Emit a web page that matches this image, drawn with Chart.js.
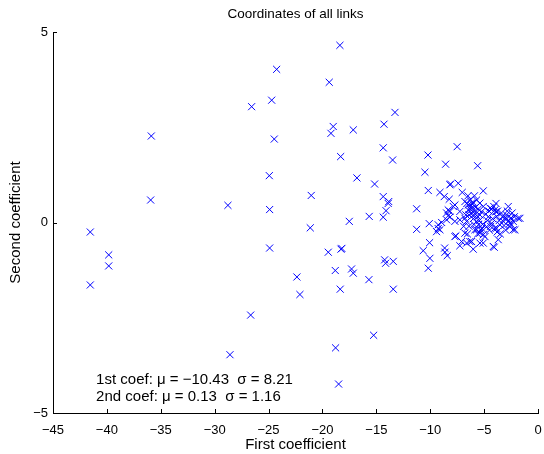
<!DOCTYPE html>
<html>
<head>
<meta charset="utf-8">
<title>Coordinates of all links</title>
<script src="https://cdn.jsdelivr.net/npm/chart.js@4.4.1/dist/chart.umd.min.js"></script>
<style>
  html, body { margin: 0; padding: 0; background: #fff; }
  #wrap { width: 544px; height: 454px; }
</style>
</head>
<body>
<div id="wrap"><canvas id="linkChart" width="544" height="454"></canvas></div>
<script>
// [first coefficient, second coefficient] for every link
const links = [
  // far left / sparse region
  [-41.54, -0.25], [-41.54, -1.64], [-39.83, -0.85], [-39.83, -1.14],
  [-35.94, 0.59], [-35.88, 2.27], [-28.77, 0.45], [-28.58, -3.47],
  [-26.66, -2.43], [-26.57, 3.04], [-24.93, 1.23], [-24.90, 0.34],
  [-24.90, -0.67], [-24.71, 3.21], [-24.47, 2.19], [-24.25, 4.02],
  [-22.37, -1.43], [-22.09, -1.89], [-21.13, -0.14], [-21.04, 0.71],
  [-19.46, -0.78], [-19.37, 3.68], [-19.21, 2.34], [-19.00, 2.52],
  [-18.81, -1.26], [-18.78, -3.29], [-18.50, -4.24], [-18.38, 4.65],
  [-18.35, -1.75], [-18.31, 1.73], [-18.28, -0.70], [-18.20, -0.68],
  [-17.51, 0.03], [-17.30, -1.22], [-17.14, -1.33], [-17.14, 2.43],
  [-16.80, 1.17], [-15.69, -1.50], [-15.66, 0.16], [-15.25, -2.96],
  [-15.16, 1.01], [-14.36, 1.96], [-14.36, 0.68], [-14.36, 0.14],
  [-14.29, 2.58], [-14.23, -0.98], [-14.14, -1.07], [-14.10, 0.31],
  [-13.90, 0.50], [-13.85, 0.55], [-13.49, 1.64], [-13.43, -1.02],
  [-13.43, -1.75], [-13.27, 2.89],
  // middle band
  [-11.26, 0.36], [-11.26, -0.18], [-10.65, -0.74], [-10.49, 1.32],
  [-10.21, 1.77], [-10.18, 0.84], [-10.18, -1.20], [-10.09, -0.03],
  [-10.06, -0.53], [-10.03, -0.94], [-9.41, -0.24], [-9.26, -0.06],
  [-9.26, -0.16], [-9.10, -0.19], [-9.10, 0.79], [-8.94, 0.00],
  [-8.70, 0.68], [-8.66, -0.67], [-8.63, -0.78], [-8.57, 1.53],
  [-8.48, 0.25], [-8.48, 0.07], [-8.42, -0.87], [-8.33, 0.33],
  [-8.33, 0.18], [-8.24, 0.61], [-8.17, 0.99], [-8.17, 0.29],
  [-8.17, 0.14], [-8.11, 1.01], [-7.86, 0.42], [-7.71, 0.46],
  [-7.71, 0.03], [-7.71, -0.37], [-7.62, -0.35], [-7.50, 1.99],
  [-7.40, 1.03], [-7.25, 0.29], [-7.25, 0.07], [-7.25, -0.61],
  [-7.09, -0.50], [-7.03, 0.79],
  // dense cluster near zero
  [-6.78, 0.55], [-6.78, 0.11], [-6.78, -0.28], [-6.69, 0.20],
  [-6.62, 0.03], [-6.62, -0.54], [-6.50, 0.70], [-6.47, 0.46],
  [-6.47, 0.33], [-6.40, -0.10], [-6.32, -0.50], [-6.20, 0.45],
  [-6.16, 0.25], [-6.16, 0.51], [-6.16, -0.50], [-6.07, 0.38],
  [-6.01, -0.70], [-6.00, 0.10], [-5.90, 0.30], [-5.90, 0.70],
  [-5.85, -0.19], [-5.70, 0.59], [-5.70, 0.03], [-5.70, -0.19],
  [-5.60, 1.49], [-5.60, 0.15], [-5.50, -0.05], [-5.39, 0.51],
  [-5.39, 0.20], [-5.39, -0.28], [-5.39, -0.54], [-5.23, -0.15],
  [-5.08, 0.83], [-5.08, 0.42], [-5.08, -0.32], [-5.08, -0.54],
  [-4.92, -0.37], [-4.77, -0.11], [-4.60, 0.15], [-4.50, -0.20],
  [-4.46, 0.38], [-4.30, -0.02], [-4.20, 0.10], [-4.15, -0.63],
  [-4.06, -0.65], [-4.00, 0.33], [-4.00, -0.15], [-3.90, 0.50],
  [-3.84, 0.16], [-3.84, -0.15], [-3.69, -0.45], [-3.53, -0.06],
  [-3.50, -0.30], [-3.40, 0.25], [-3.23, 0.03], [-3.07, 0.11],
  [-3.00, -0.20], [-2.93, 0.20], [-2.76, 0.42], [-2.70, 0.05],
  [-2.61, -0.02], [-2.61, -0.11], [-2.40, 0.25], [-2.30, 0.03],
  [-2.30, -0.19], [-2.14, -0.19], [-1.84, 0.11], [-1.68, 0.11],
  [-6.30, 0.60], [-6.05, 0.18], [-5.95, -0.05], [-5.80, 0.40],
  [-5.55, 0.35], [-5.45, 0.05], [-5.25, 0.28], [-5.15, -0.05],
  [-4.85, 0.22], [-4.70, 0.05], [-4.55, 0.30], [-4.40, -0.10],
  [-3.75, 0.30], [-3.60, 0.05], [-3.30, 0.15], [-3.15, -0.08],
  [-2.85, 0.30], [-2.50, 0.12], [-6.90, -0.10], [-6.55, -0.30],
  [-6.60, 0.50], [-6.30, 0.35], [-6.00, 0.52], [-5.80, 0.22],
  [-6.40, 0.20], [-4.30, 0.35], [-3.90, 0.28], [-4.10, 0.42],
  [-2.90, 0.10], [-2.50, -0.05], [-2.20, 0.15], [-5.60, -0.30],
  [-5.30, -0.20], [-3.80, -0.25]
];

const xTicks = [-45, -40, -35, -30, -25, -20, -15, -10, -5, 0];
const yTicks = [-5, 0, 5];
const statLines = [
  '1st coef: \u03bc = \u221210.43  \u03c3 = 8.21',
  '2nd coef: \u03bc = 0.13  \u03c3 = 1.16'
];

const fontFamily = '"Liberation Sans", Arial, Helvetica, sans-serif';
Chart.defaults.font.family = fontFamily;
Chart.defaults.color = '#000';

// minus sign like the plotting package uses
const fmtTick = v => String(v).replace('-', '\u2212');

// short ticks pointing into the plot area
const innerTicks = {
  id: 'innerTicks',
  afterDatasetsDraw(chart) {
    const { ctx, chartArea, scales: { x, y } } = chart;
    ctx.save();
    ctx.strokeStyle = '#000';
    ctx.lineWidth = 1;
    ctx.beginPath();
    xTicks.forEach(v => {
      const px = Math.round(x.getPixelForValue(v)) + 0.5;
      ctx.moveTo(px, chartArea.bottom);
      ctx.lineTo(px, chartArea.bottom - 4);
    });
    yTicks.forEach(v => {
      const py = Math.round(y.getPixelForValue(v)) + 0.5;
      ctx.moveTo(chartArea.left, py);
      ctx.lineTo(chartArea.left + 4, py);
    });
    ctx.stroke();
    ctx.restore();
  }
};

// title centred over the plot area, plus the mean / std summary
const plotText = {
  id: 'plotText',
  afterDraw(chart) {
    const { ctx, chartArea, scales: { x, y } } = chart;
    ctx.save();
    ctx.fillStyle = '#000';
    ctx.textBaseline = 'middle';
    ctx.textAlign = 'center';
    ctx.font = '13.5px ' + fontFamily;
    ctx.fillText('Coordinates of all links', (chartArea.left + chartArea.right) / 2, 14);
    ctx.textAlign = 'left';
    ctx.font = '15px ' + fontFamily;
    const left = x.getPixelForValue(-41.0);
    ctx.fillText(statLines[0], left, y.getPixelForValue(-4.13));
    ctx.fillText(statLines[1], left, y.getPixelForValue(-4.57));
    ctx.restore();
  }
};

new Chart(document.getElementById('linkChart'), {
  type: 'scatter',
  data: {
    datasets: [{
      data: links.map(([a, b]) => ({ x: a, y: b })),
      pointStyle: 'crossRot',
      pointRadius: 5,
      pointBorderWidth: 1,
      pointBorderColor: '#0000ff',
      pointBackgroundColor: '#0000ff',
      borderColor: '#0000ff',
      backgroundColor: '#0000ff'
    }]
  },
  options: {
    responsive: false,
    animation: false,
    layout: { padding: { top: 32, right: 6 } },
    plugins: {
      legend: { display: false },
      tooltip: { enabled: false },
      title: { display: false }
    },
    scales: {
      x: {
        type: 'linear',
        min: -45,
        max: 0,
        afterFit: s => { s.height = 41; s.paddingLeft = 0; s.paddingRight = 0; },
        afterBuildTicks: s => { s.ticks = xTicks.map(v => ({ value: v })); },
        grid: { display: false, drawTicks: false },
        border: { display: true, color: '#000', width: 1 },
        ticks: { padding: 10, font: { size: 13 }, callback: fmtTick, maxRotation: 0 },
        title: { display: true, text: 'First coefficient', font: { size: 15 }, padding: { top: 0, bottom: 0 } }
      },
      y: {
        type: 'linear',
        min: -5,
        max: 5,
        afterFit: s => { s.width = 53; s.paddingTop = 0; s.paddingBottom = 0; },
        afterBuildTicks: s => { s.ticks = yTicks.map(v => ({ value: v })); },
        grid: { display: false, drawTicks: false },
        border: { display: true, color: '#000', width: 1 },
        ticks: { padding: 5, font: { size: 13 }, callback: fmtTick },
        title: { display: true, text: 'Second coefficient', font: { size: 15 }, padding: { top: 7 } }
      }
    }
  },
  plugins: [innerTicks, plotText]
});
</script>
</body>
</html>
